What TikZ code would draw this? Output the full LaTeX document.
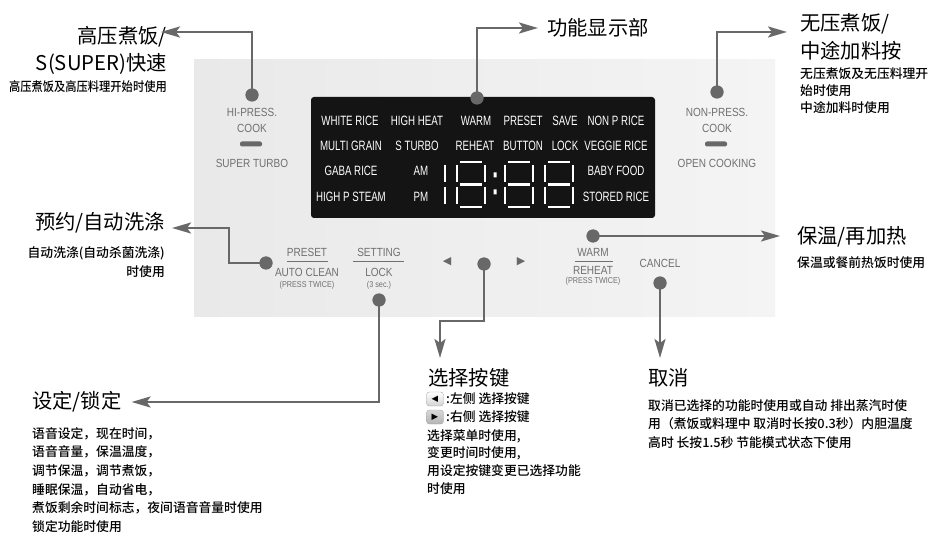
\documentclass[tikz,border=0pt]{standalone}
\usepackage{fontspec}
\usepackage{tikz}
\usetikzlibrary{arrows.meta,positioning}
\newfontfamily\cjk{Noto Sans CJK SC}
\newfontfamily\cjkm{Noto Sans CJK SC Medium}
\newfontfamily\cjkslim{Noto Sans CJK SC Medium}[FakeStretch=0.88]
\newfontfamily\lblfont{Liberation Sans}[FakeStretch=0.85]
\newfontfamily\dispfont{Liberation Sans}[FakeStretch=0.72]
\newfontfamily\symfont{DejaVu Sans}
\definecolor{agray}{RGB}{104,104,104}
\definecolor{lgray}{RGB}{112,112,112}
\definecolor{pnlL}{RGB}{233,233,233}
\definecolor{pnlR}{RGB}{244,244,244}
\definecolor{lcd}{RGB}{20,20,20}
\tikzset{
  ttl/.style   ={inner sep=0pt, font=\cjk\fontsize{20.3}{27}\selectfont},
  note/.style  ={inner sep=0pt, font=\cjkm\fontsize{12.8}{18.5}\selectfont},
  lbl/.style   ={inner sep=0pt, text=lgray, font=\lblfont\fontsize{11.8}{13}\selectfont},
  lbls/.style  ={lbl, font=\lblfont\fontsize{8.5}{10}\selectfont},
  disp/.style  ={inner sep=0pt, text=white, font=\dispfont\fontsize{13.5}{14}\selectfont},
  dot/.style   ={circle, fill=agray, inner sep=0pt, minimum size=13pt},
  ar/.style    ={-{Stealth[length=19pt,width=11pt,inset=4pt]}, draw=agray, line width=2.3pt},
  seg/.style   ={draw=white, line width=2.8pt},
  sepl/.style  ={draw=lgray, line width=0.8pt},
  bar/.style   ={rectangle, rounded corners=2pt, fill=agray, minimum width=22pt,
                 minimum height=5pt, inner sep=0pt},
  keybox/.style={rectangle, rounded corners=3pt, draw=gray!70, top color=white,
                 bottom color=gray!35, minimum width=17pt, minimum height=14pt,
                 inner sep=0pt, font=\symfont\fontsize{8.5}{8.5}\selectfont},
  tri/.style   ={inner sep=0pt, text=agray, font=\symfont\fontsize{11}{11}\selectfont}
}

\begin{document}
\begin{tikzpicture}[x=1pt,y=-1pt]
\useasboundingbox (0,0) rectangle (929,537);

% control panel and display
\fill[left color=pnlL, right color=pnlR] (194,60) rectangle (775,317);
\fill[lcd, rounded corners=3pt] (311,97) rectangle (655,218);

\node[disp] (dWhite)  at (350,121) {WHITE RICE};
\node[disp] (dHigh)   at (417,121) {HIGH HEAT};
\node[disp] (dWarm)   at (476,121) {WARM};
\node[disp] (dPreset) at (523,121) {PRESET};
\node[disp] (dSave)   at (565,121) {SAVE};
\node[disp] (dNonP)   at (616,121) {NON P RICE};
\node[disp] (dMulti)  at (351,146) {MULTI GRAIN};
\node[disp] (dTurbo)  at (417,146) {S TURBO};
\node[disp] (dReheat) at (475,146) {REHEAT};
\node[disp] (dButton) at (523,146) {BUTTON};
\node[disp] (dLock)   at (565,146) {LOCK};
\node[disp] (dVeggie) at (616,146) {VEGGIE RICE};
\node[disp] (dGaba)   at (351,171) {GABA RICE};
\node[disp] (dAm)     at (421,171) {AM};
\node[disp] (dBaby)   at (616,171) {BABY FOOD};
\node[disp] (dSteam)  at (351,197) {HIGH P STEAM};
\node[disp] (dPm)     at (421,197) {PM};
\node[disp] (dStored) at (616,197) {STORED RICE};

% seven segment digits
\draw[seg] (445,165) -- (445,182) (445,187) -- (445,204);
\foreach \sx in {457,505,545}{
  \draw[seg] (\sx+3,162) -- (\sx+25,162) (\sx+3,184.5) -- (\sx+25,184.5)
             (\sx+3,207) -- (\sx+25,207);
  \draw[seg] (\sx,165) -- (\sx,182) (\sx,187) -- (\sx,204)
             (\sx+28,165) -- (\sx+28,182) (\sx+28,187) -- (\sx+28,204);
}
\fill[white] (493.5,172.5) rectangle (496.5,177.5) (493.5,189.5) rectangle (496.5,194.5);

% panel labels
\node[lbl] (hiPress) at (252,112) {HI-PRESS.};
\node[lbl] (hiCook)  at (252,128) {COOK};
\node[bar] (hiBar)   at (251,144) {};
\node[lbl] (hiTurbo) at (252,163) {SUPER TURBO};

\node[lbl] (nonPress) at (717,112) {NON-PRESS.};
\node[lbl] (nonCook)  at (717,128) {COOK};
\node[bar] (nonBar)   at (716,144) {};
\node[lbl] (nonOpen)  at (717,163) {OPEN COOKING};

\node[lbl]  (preset)   at (307,252) {PRESET};
\draw[sepl] (287,261) -- (328,261);
\node[lbl]  (autoCl)   at (307,272) {AUTO CLEAN};
\node[lbls] (presTw)   at (307,285) {(PRESS TWICE)};

\node[lbl]  (setting)  at (379,252) {SETTING};
\draw[sepl] (353,261) -- (404,261);
\node[lbl]  (lock)     at (379,272) {LOCK};
\node[lbls] (lockSec)  at (379,285) {(3 sec.)};

\node[tri]  (triL) at (447,262) {◀};
\node[tri]  (triR) at (521,262) {▶};

\node[lbl]  (warm)     at (593,252) {WARM};
\draw[sepl] (575,261) -- (613,261);
\node[lbl]  (reheat)   at (593,270) {REHEAT};
\node[lbls] (warmTw)   at (593,281) {(PRESS TWICE)};

\node[lbl]  (cancel)   at (660,263) {CANCEL};

% dots
\node[dot] (pHi)     at (252,95) {};
\node[dot] (pDisp)   at (477,98) {};
\node[dot] (pNon)    at (717,92) {};
\node[dot] (pPreset) at (266,263) {};
\node[dot] (pSet)    at (379,300) {};
\node[dot] (pSel)    at (484,264) {};
\node[dot] (pWarm)   at (593,236) {};
\node[dot] (pCancel) at (660,283) {};

% callout texts
\node[ttl, anchor=north east, align=right] (tHi) at (167,26)
  {高压煮饭/\\S(SUPER)快速};
\node[note, anchor=east] (nHi) at (167,87) {\cjkslim 高压煮饭及高压料理开始时使用};

\node[ttl, anchor=west] (tDisp) at (547,28) {功能显示部};

\node[ttl, anchor=north west, align=left, font=\cjk\fontsize{20.3}{28}\selectfont]
  (tNon) at (800,13) {无压煮饭/\\中途加料按};
\node[note, anchor=north west, align=left, font=\cjkm\fontsize{12.8}{17}\selectfont]
  (nNon) at (800,67.2) {无压煮饭及无压料理开\\始时使用\\中途加料时使用};

\node[ttl, anchor=east] (tPreset) at (165,223) {预约/自动洗涤};
\node[note, anchor=north east, align=right, font=\cjkm\fontsize{12.8}{19}\selectfont]
  (nPreset) at (165,246.2) {自动洗涤(自动杀菌洗涤)\\时使用};

\node[ttl, anchor=west] (tWarm) at (797,237) {保温/再加热};
\node[note, anchor=west] (nWarm) at (797,263) {保温或餐前热饭时使用};

\node[ttl, anchor=west] (tSet) at (32,402) {设定/锁定};
\node[note, anchor=north west, align=left, font=\cjkm\fontsize{12.8}{18.6}\selectfont]
  (nSet) at (32,427.2) {语音设定，现在时间，\\语音音量，保温温度，\\调节保温，调节煮饭，\\
  睡眠保温，自动省电，\\煮饭剩余时间标志，夜间语音音量时使用\\锁定功能时使用};

\node[ttl, anchor=west] (tSel) at (428,378) {选择按键};
\node[keybox] (keyL) at (435,399) {◀};
\node[keybox, top color=gray!30, bottom color=gray!60] (keyR) at (435,417) {▶};
\node[note, anchor=west] (nKeyL) at (446,399) {:左侧 选择按键};
\node[note, anchor=west] (nKeyR) at (446,417) {:右侧 选择按键};
\node[note, anchor=north west, align=left, font=\cjkm\fontsize{12.8}{17.7}\selectfont]
  (nSel) at (427,429.2) {选择菜单时使用,\\变更时间时使用,\\用设定按键变更已选择功能\\时使用};

\node[ttl, anchor=west] (tCancel) at (648,378) {取消};
\node[note, anchor=north west, align=left]
  (nCancel) at (648,399.2) {取消已选择的功能时使用或自动 排出蒸汽时使\\
  用（煮饭或料理中 取消时长按0.3秒）内胆温度\\高时 长按1.5秒 节能模式状态下使用};

% connectors
\draw[ar] (pHi.center) |- ([xshift=-6pt]tHi.north east |- 0,32);
\draw[ar] (pDisp.center) |- ([xshift=-9pt]tDisp.west);
\draw[ar] (pNon.center) |- ([xshift=-13pt]tNon.west |- 0,32);
\draw[ar] (pPreset.center) -- (229,263) |- ([xshift=7pt]tPreset.east |- 0,228);
\draw[ar] (pSet.center) |- ([xshift=10pt]tSet.east);
\draw[ar] (pSel.center) -- (484,321) -| (440,358);
\draw[ar] (pWarm.center) -- ([xshift=-17pt]tWarm.west |- pWarm);
\draw[ar] (pCancel.center) -- (660,358);

% dots on top
\foreach \p in {pHi,pDisp,pNon,pPreset,pSet,pSel,pWarm,pCancel}
  \fill[agray] (\p) circle (6.5pt);
\end{tikzpicture}
\end{document}
